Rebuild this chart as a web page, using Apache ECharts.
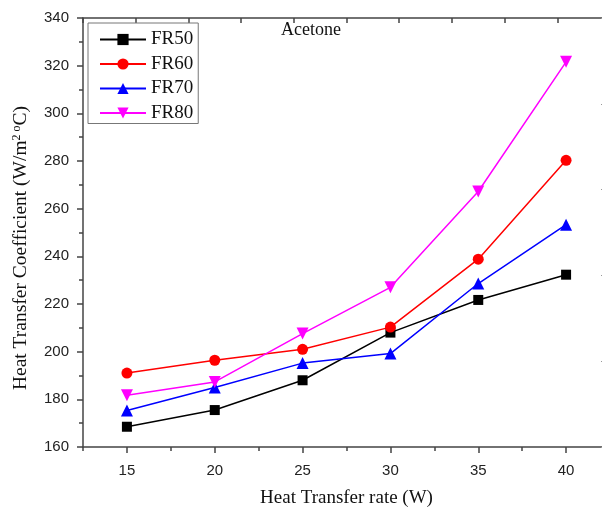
<!DOCTYPE html>
<html>
<head>
<meta charset="utf-8">
<script src="https://cdn.jsdelivr.net/npm/echarts@6/dist/echarts.min.js"></script>
<style>html,body{margin:0;padding:0;background:#fff;}#c{width:602px;height:510px;}</style>
</head>
<body>
<div id="c"></div>
<script>
var xValues = [15, 20, 25, 30, 35, 40];
var fr50 = [168.5, 175.5, 188.0, 208.0, 221.7, 232.3];
var fr60 = [191.0, 196.4, 201.0, 210.3, 238.8, 280.3];
var fr70 = [175.3, 185.0, 195.2, 199.2, 228.6, 253.3];
var fr80 = [181.7, 187.3, 207.6, 227.0, 267.2, 321.6];
var seriesNames = ['FR50', 'FR60', 'FR70', 'FR80'];
var xTicks = [15, 20, 25, 30, 35, 40];

function pairs(ys) { return xValues.map(function (x, i) { return [x, ys[i]]; }); }

var serif = '"Liberation Serif", "Times New Roman", serif';
var sans = '"Liberation Sans", Arial, sans-serif';
var axisCol = '#444';

var chart = echarts.init(document.getElementById('c'), null, {renderer: 'canvas'});
chart.setOption({
  animation: false,
  backgroundColor: '#fff',
  grid: {left: 83, top: 18, width: 527, height: 429, containLabel: false, outerBoundsMode: 'none'},
  graphic: [{
    type: 'text', left: 281, top: 21,
    style: {text: 'Acetone', font: '18px ' + serif, fill: '#111'}
  }, {
    type: 'text', x: 21, y: 248, rotation: Math.PI / 2,
    style: {
      x: 0, y: 0, text: 'Heat Transfer Coefficient (W/m{sup|2 o}C)',
      font: '19.5px ' + serif, fill: '#111', align: 'center', verticalAlign: 'middle',
      rich: {sup: {font: '12px ' + serif, fill: '#111', verticalAlign: 'bottom', padding: [0, 0, 9, 0]}}
    }
  }],
  legend: {
    orient: 'vertical', left: 88, top: 23,
    data: seriesNames,
    itemWidth: 46, itemHeight: 14, itemGap: 5.5,
    padding: [7, 5, 1, 11],
    borderColor: '#777', borderWidth: 1,
    textStyle: {fontFamily: serif, fontSize: 19, color: '#111'}
  },
  xAxis: [{
    type: 'value', min: 12.5, max: 42.5, position: 'bottom',
    name: 'Heat Transfer rate (W)', nameLocation: 'middle', nameGap: 42,
    nameTextStyle: {fontFamily: serif, fontSize: 19, color: '#111'},
    axisLine: {show: true, onZero: false, lineStyle: {color: axisCol, width: 1.5}},
    axisTick: {show: true, inside: false, length: 6, customValues: xTicks, lineStyle: {color: axisCol, width: 1.5}},
    axisLabel: {show: true, customValues: xTicks, margin: 16, fontFamily: sans, fontSize: 15, color: '#222'},
    splitLine: {show: false}
  }, {
    type: 'value', min: 12.5, max: 42.5, interval: 5, position: 'bottom',
    axisLine: {show: false, onZero: false},
    axisTick: {show: true, inside: false, length: 4, lineStyle: {color: axisCol, width: 1.5}},
    axisLabel: {show: false}, splitLine: {show: false}
  }, {
    type: 'value', min: -1, max: 9, interval: 1, position: 'top',
    axisLine: {show: true, onZero: false, lineStyle: {color: axisCol, width: 1.5}},
    axisTick: {show: true, inside: true, length: 5, lineStyle: {color: axisCol, width: 1.5}},
    axisLabel: {show: false}, splitLine: {show: false}
  }],
  yAxis: [{
    type: 'value', min: 160, max: 340, interval: 20, position: 'left',
    axisLine: {show: true, onZero: false, lineStyle: {color: axisCol, width: 1.5}},
    axisTick: {show: true, inside: false, length: 6, lineStyle: {color: axisCol, width: 1.5}},
    minorTick: {show: true, splitNumber: 2, length: 4, lineStyle: {color: axisCol, width: 1.5}},
    axisLabel: {margin: 14, fontFamily: sans, fontSize: 15, color: '#222'},
    splitLine: {show: false}
  }, {
    type: 'value', min: 0, max: 5, interval: 1, position: 'right',
    axisLine: {show: true, onZero: false, lineStyle: {color: axisCol, width: 1.5}},
    axisTick: {show: true, inside: true, length: 9, lineStyle: {color: '#999', width: 1}},
    axisLabel: {show: false}, splitLine: {show: false}
  }],
  series: [{
    name: 'FR50', type: 'line', data: pairs(fr50), symbol: 'rect', symbolSize: 10,
    itemStyle: {color: '#000'}, lineStyle: {color: '#000', width: 1.5}
  }, {
    name: 'FR60', type: 'line', data: pairs(fr60), symbol: 'circle', symbolSize: 11,
    itemStyle: {color: '#ff0000'}, lineStyle: {color: '#ff0000', width: 1.5}
  }, {
    name: 'FR70', type: 'line', data: pairs(fr70), symbol: 'triangle', symbolSize: 12,
    itemStyle: {color: '#0000ff'}, lineStyle: {color: '#0000ff', width: 1.5}
  }, {
    name: 'FR80', type: 'line', data: pairs(fr80), symbol: 'triangle', symbolSize: 12, symbolRotate: 180,
    itemStyle: {color: '#ff00ff'}, lineStyle: {color: '#ff00ff', width: 1.5}
  }]
});
</script>
</body>
</html>
